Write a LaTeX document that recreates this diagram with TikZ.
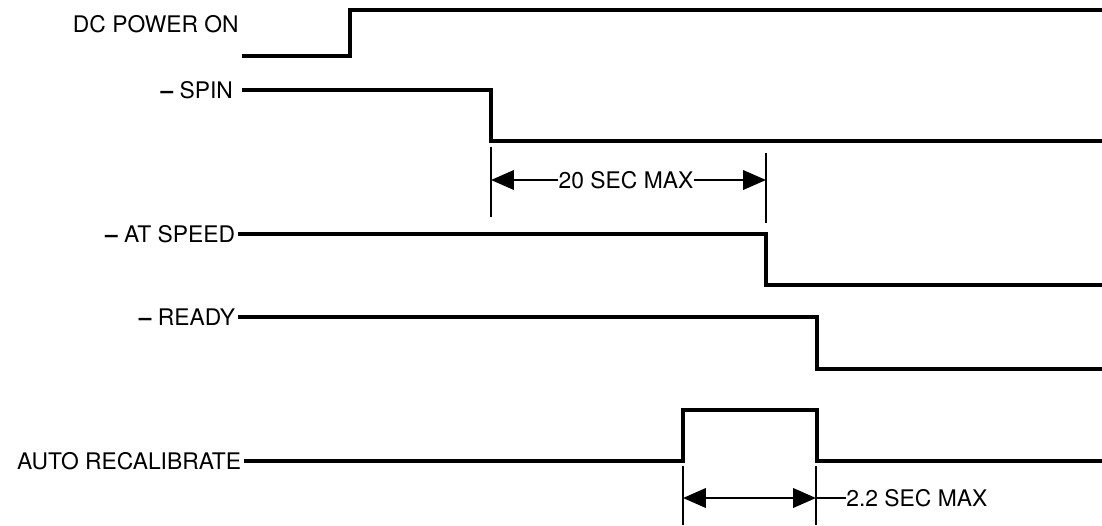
\documentclass[tikz,border=0pt]{standalone}
\usepackage{fontspec}
\setmainfont{TeX Gyre Heros}
\usetikzlibrary{arrows.meta}

\begin{document}
\begin{tikzpicture}[x=0.02cm, y=-0.02cm, >={Triangle[length=13pt, width=11pt]},
    sig/.style={line width=1.8pt},
    lim/.style={line width=1.5pt},
    dim/.style={line width=1.4pt},
    lbl/.style={anchor=east, inner xsep=1.5pt, inner ysep=0pt, font=\fontsize{13}{15}\selectfont},
    tag/.style={inner sep=0pt, font=\fontsize{13}{15}\selectfont}]
    \useasboundingbox (0,0) rectangle (1102,525);

    % Tên tín hiệu
    \node[lbl, inner xsep=0pt] (pwr) at (239,24) {DC POWER ON};
    \node[lbl, inner xsep=5pt] (spin) at (242,90) {{\bfseries --} SPIN};
    \node[lbl] (speed) at (238,234) {{\bfseries --} AT SPEED};
    \node[lbl] (ready) at (238,317) {{\bfseries --} READY};
    \node[lbl] (recal) at (244,461) {AUTO RECALIBRATE};

    % Dạng sóng
    \draw[sig] (242,56) -- (350,56) -- (350,10) -- (1102,10);
    \draw[sig] (spin.east) -- (491,90) -- (491,141) -- (1102,141);
    \draw[sig] (speed.east) -- (766,234) -- (766,285) -- (1102,285);
    \draw[sig] (ready.east) -- (817,317) -- (817,369) -- (1102,369);
    \draw[sig] (recal.east) -- (683,461) -- (683,410) -- (817,410) -- (817,461) -- (1102,461);

    % 20 SEC MAX
    \draw[lim] (491,147) -- (491,217);
    \draw[lim] (766,153) -- (766,223);
    \node[tag] (t20) at (626,180) {20 SEC MAX};
    \draw[dim, ->] (t20.west) -- (491,180);
    \draw[dim, ->] (t20.east) -- (766,180);

    % 2.2 SEC MAX
    \draw[lim] (683,466) -- (683,525);
    \draw[lim] (816,466) -- (816,525);
    \draw[dim, <->] (683,498) -- (816,498);
    \node[tag, anchor=west] (t22) at (846,498) {2.2 SEC MAX};
    \draw[dim] (816,498) -- (t22.west);
\end{tikzpicture}
\end{document}
